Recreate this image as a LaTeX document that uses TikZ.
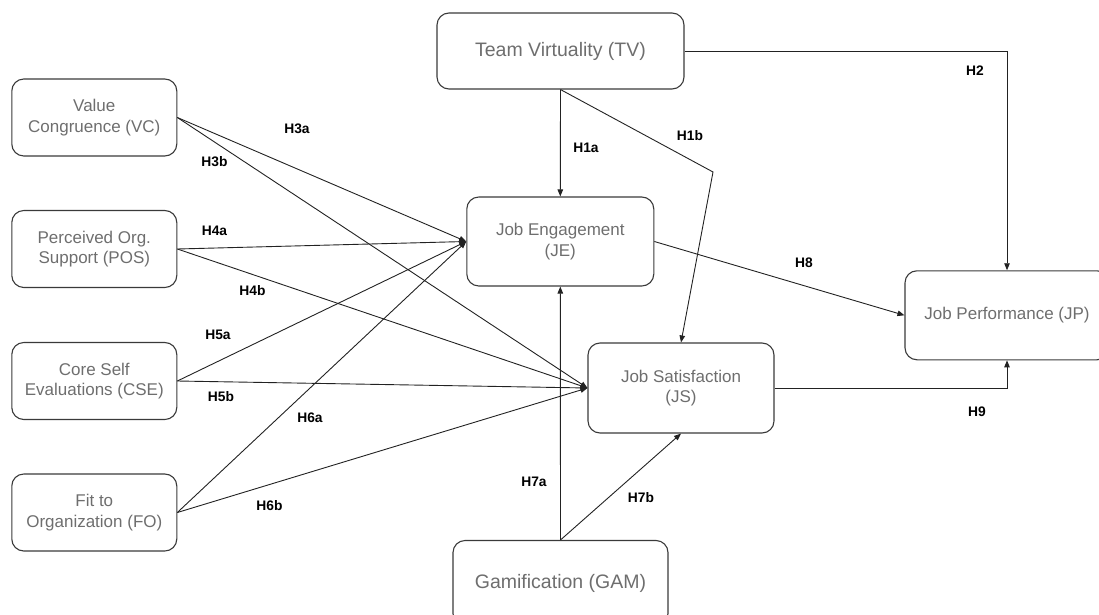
\documentclass[tikz,border=0pt]{standalone}
\usepackage{fontspec}
\setmainfont{Liberation Sans}
\usetikzlibrary{arrows.meta}
\definecolor{boxtext}{HTML}{6E6E6E}
\definecolor{boxline}{HTML}{3A3A3A}
\definecolor{edgeline}{HTML}{222222}

\begin{document}
\begin{tikzpicture}[x=1pt, y=-1pt, >={Triangle[length=7pt,width=5.5pt]},
    box/.style={draw=boxline, line width=1.1pt, rounded corners=12pt, align=center,
      text=boxtext, inner sep=0pt, font=\fontsize{17}{20.5}\selectfont},
    big/.style={font=\fontsize{19.5}{23}\selectfont},
    link/.style={->, draw=edgeline, line width=0.9pt},
    hyp/.style={font=\fontsize{13.8}{15}\selectfont\bfseries}]
  \useasboundingbox (0,0) rectangle (1099,615);

  % constructs
  \node [box, big, minimum width=247pt, minimum height=76pt] (tv) at (560.5,51) {Team Virtuality (TV)};
  \node [box, minimum width=165pt, minimum height=77pt] (vc) at (94.3,117.5) {Value\\Congruence (VC)};
  \node [box, minimum width=165pt, minimum height=77pt] (pos) at (94.3,249) {Perceived Org.\\Support (POS)};
  \node [box, minimum width=165pt, minimum height=77pt] (cse) at (94.3,381) {Core Self\\Evaluations (CSE)};
  \node [box, minimum width=165pt, minimum height=77pt] (fo) at (94.3,512.5) {Fit to\\Organization (FO)};
  \node [box, minimum width=187pt, minimum height=89pt] (je) at (560.3,241.5) {Job Engagement\\(JE)};
  \node [box, minimum width=186pt, minimum height=90pt] (js) at (681,388) {Job Satisfaction\\(JS)};
  \node [box, minimum width=204pt, minimum height=89pt] (jp) at (1007,315.3) {Job Performance (JP)};
  \node [box, big, minimum width=215pt, minimum height=85pt] (gam) at (560.5,583) {Gamification (GAM)};

  % paths
  \coordinate (bend) at (713,172);
  \draw [link] (tv.south) -- (je.north);
  \draw [link] (tv.south) -- (bend) -- (js.north);
  \draw [link] (tv.east) -| (jp.north);
  \draw [link] (je.east) -- (jp.west);
  \draw [link] (js.east) -| (jp.south);
  \draw [link] (gam.north) -- (je.south);
  \draw [link] (gam.north) -- (js.south);
  \foreach \src in {vc,pos,cse,fo}{
    \draw [link] (\src.east) -- (je.west);
    \draw [link] (\src.east) -- (js.west);
  }

  % hypotheses
  \node [hyp] (h1a) at (586,148) {H1a};
  \node [hyp] (h1b) at (690,136) {H1b};
  \node [hyp] (h2) at (975,71) {H2};
  \node [hyp] (h3a) at (297,129) {H3a};
  \node [hyp] (h3b) at (214.5,162) {H3b};
  \node [hyp] (h4a) at (214.5,231) {H4a};
  \node [hyp] (h4b) at (252.5,291) {H4b};
  \node [hyp] (h5a) at (218,335) {H5a};
  \node [hyp] (h5b) at (221,397) {H5b};
  \node [hyp] (h6a) at (310,418) {H6a};
  \node [hyp] (h6b) at (269.5,506) {H6b};
  \node [hyp] (h7a) at (534,482) {H7a};
  \node [hyp] (h7b) at (641,498) {H7b};
  \node [hyp] (h8) at (804,263) {H8};
  \node [hyp] (h9) at (977,412) {H9};
\end{tikzpicture}
\end{document}
